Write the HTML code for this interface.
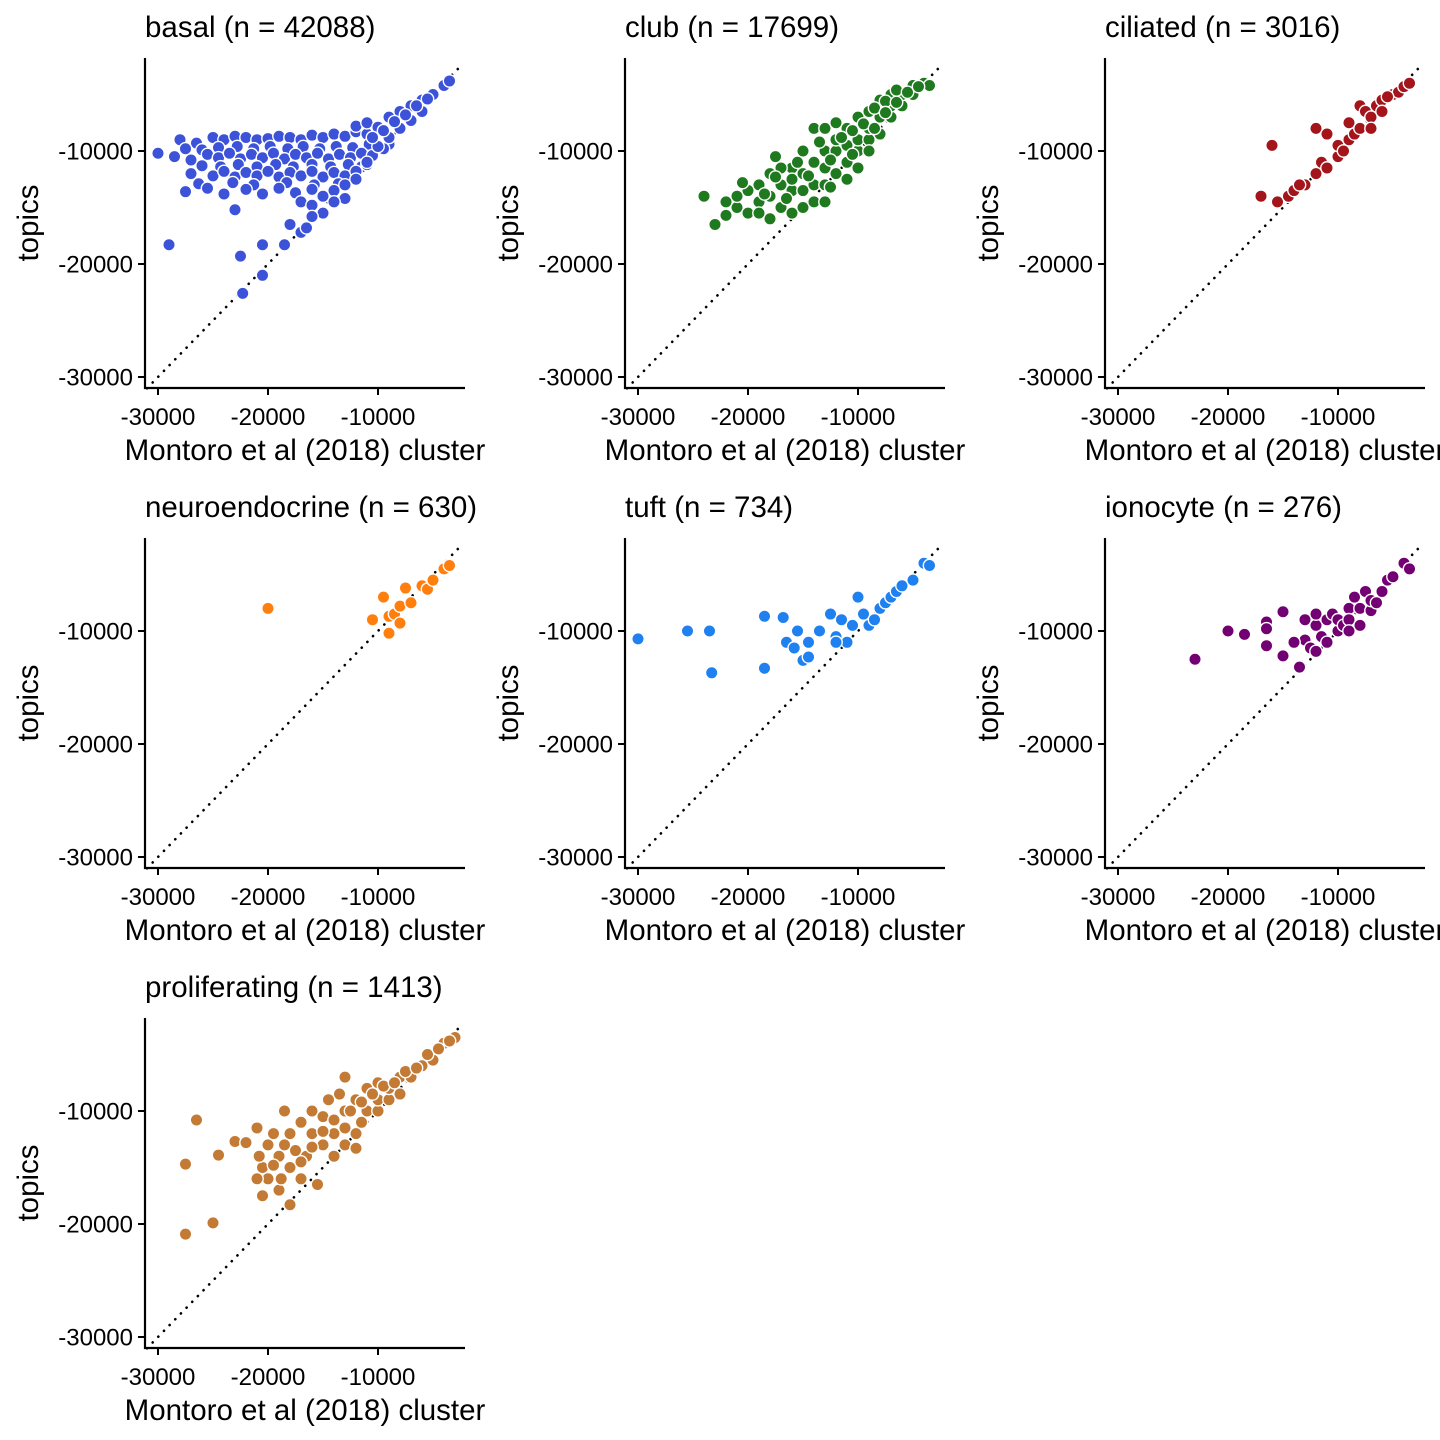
<!DOCTYPE html>
<html><head><meta charset="utf-8">
<style>
html,body{margin:0;padding:0;background:#fff;overflow:hidden;width:1440px;height:1440px}
svg{display:block;font-family:"Liberation Sans",Arial,sans-serif}
</style></head>
<body>
<svg id="chart" width="1440" height="1440" viewBox="0 0 1440 1440"></svg>
<script>
const panelNames = ["basal (n = 42088)","club (n = 17699)","ciliated (n = 3016)","neuroendocrine (n = 630)","tuft (n = 734)","ionocyte (n = 276)","proliferating (n = 1413)"];
const panelKeys = ["basal","club","ciliated","neuroendocrine","tuft","ionocyte","proliferating"];
const panelColors = ["#3b52d9","#1f7a1f","#a3141b","#ff7f0e","#1f80f0","#730073","#c27a35"];
const xTicks = [-30000,-20000,-10000];
const yTicks = [-10000,-20000,-30000];
const xTickLabels = ["-30000","-20000","-10000"];
const yTickLabels = ["-10000","-20000","-30000"];
// data in thousands [x, y]
const basalData = [[-30,-10.2],[-29,-18.3],[-22.5,-19.3],[-22.3,-22.6],[-20.5,-21],[-20.5,-18.3],[-18.5,-18.3],[-23,-15.2],
[-28,-9],[-26.5,-9.3],[-25,-8.8],[-24,-9],[-23,-8.7],[-22,-8.8],[-21,-9],[-20,-8.9],[-19,-8.7],[-18,-8.8],[-17,-9],[-16,-8.6],[-15,-8.8],[-14,-8.5],[-13,-8.7],[-12,-8.3],[-11,-8.5],[-10,-8.2],
[-27.5,-9.8],[-26,-9.9],[-24.5,-9.7],[-22.8,-9.6],[-21.3,-9.8],[-19.8,-9.6],[-18.2,-9.8],[-16.8,-9.6],[-15.3,-9.8],[-13.8,-9.6],[-12.3,-9.7],[-10.8,-9.4],[-9,-9.4],
[-28.5,-10.5],[-27,-10.8],[-25.5,-10.3],[-24.5,-10.6],[-23.5,-10.2],[-22.5,-10.7],[-21.5,-10.3],[-20.5,-10.6],[-19.5,-10.2],[-18.5,-10.7],[-17.5,-10.3],[-16.5,-10.6],[-15.5,-10.2],[-14.5,-10.7],[-13.5,-10.3],[-12.5,-10.6],[-11.5,-10.2],[-10.5,-10.4],[-9.5,-9.8],
[-26,-11.3],[-24.3,-11.4],[-22.7,-11.2],[-21,-11.4],[-19.3,-11.2],[-17.7,-11.4],[-16,-11.2],[-14.3,-11.4],[-12.7,-11.2],[-11.5,-11.4],
[-27,-12],[-25,-12.2],[-24,-11.8],[-23,-12.3],[-22,-11.9],[-21,-12.2],[-20,-11.8],[-19,-12.3],[-18,-11.9],[-17,-12.2],[-16,-11.8],[-15,-12.3],[-14,-11.9],[-13,-12.2],[-12,-11.8],[-11,-11.2],
[-26.3,-12.9],[-23.2,-12.8],[-21.3,-13],[-18.3,-12.8],[-15.8,-13],[-13.6,-12.9],
[-27.5,-13.6],[-25.5,-13.3],[-24,-13.8],[-22,-13.4],[-20.5,-13.8],[-19,-13.3],[-17.5,-13.7],[-16,-13.4],[-15,-14],[-14,-13.5],[-13,-14.2],[-17,-14.5],[-16,-14.8],
[-12,-7.8],[-11,-7.5],[-10,-7.9],[-9,-7],[-8,-6.5],[-7,-6],[-6,-5.5],[-5,-5],[-4,-4.2],[-3.5,-3.8],[-9,-8.8],[-8,-8],[-7,-7.3],[-6,-6.5],[-10,-9.6],[-11,-11],[-12,-12.5],[-13,-13],[-14,-14.5],
[-9.5,-8.2],[-8.5,-7.4],[-7.5,-6.8],[-6.5,-6],[-5.5,-5.4],[-10.5,-8.8],
[-15,-15.5],[-16,-15.8],[-17,-17.2],[-18,-16.5],[-16.5,-16.8]];
const clubData = [[-24,-14],[-23,-16.5],[-22,-15.7],[-21,-15],[-21,-14],[-20,-13.5],[-19,-14.5],[-19,-13],[-18,-16],[-18,-12],[-17.5,-10.5],[-17,-15],[-17,-13],[-16,-15.5],[-16,-13.5],[-16,-11.5],[-15,-15],[-15,-12],[-15,-10],[-14,-14.5],[-14,-13],[-14,-11],[-14,-8],[-13,-13],[-13,-11.5],[-13,-10],[-13,-8],[-12,-12],[-12,-10],[-12,-9],[-12,-7.5],[-11,-11],[-11,-9.5],[-11,-8],[-10,-10],[-10,-9],[-10,-7],[-9,-9],[-9,-8],[-9,-6.5],[-8,-8.5],[-8,-7],[-8,-5.5],[-7,-7],[-7,-6],[-7,-5],[-6,-6],[-6,-5],[-5,-5],[-5,-4.2],[-4,-4],[-3.5,-4.2],[-20,-15.5],[-22,-14.5],[-18,-14],[-16,-12.5],[-20.5,-12.8],[-15,-13.5],[-13,-14.5],[-11,-12.5],[-10,-11.5],[-9,-10],[-17,-11.5],[-19,-15.5],
[-18.5,-13.8],[-17.5,-12.3],[-16.5,-14.2],[-15.5,-11],[-14.5,-12.2],[-13.5,-9.2],[-12.5,-10.8],[-11.5,-8.8],[-10.5,-8.2],[-9.5,-7.6],[-8.5,-6.2],[-7.5,-5.6],[-6.5,-4.6],[-12.5,-13.2],[-10.5,-10.3],[-8.5,-8],[-7.5,-6.6],[-6.5,-5.7],[-5.5,-4.8],[-4.5,-4.3]];
const ciliatedData = [[-17,-14],[-16,-9.5],[-15.5,-14.5],[-14.5,-14],[-14,-13.5],[-13,-13],[-12,-12],[-12,-8],[-11.5,-11],[-11,-8.5],[-10,-10.5],[-10,-9.5],[-9,-9],[-9,-7.5],[-8.5,-8.5],[-8,-6],[-8,-8],[-7.5,-6.5],[-7,-7],[-6.5,-6],[-6,-5.5],[-5,-5],[-4.5,-4.8],[-4,-4.3],[-3.5,-4],[-7,-8],[-11,-11.5],[-13.5,-13],[-6,-6.5],[-5.5,-5.2],[-9.5,-10]];
const neuroData = [[-20,-8],[-10.5,-9],[-9.5,-7],[-9,-10.2],[-9,-8.7],[-8.5,-8.5],[-8,-9.3],[-8,-7.8],[-7.5,-6.2],[-7,-7.5],[-6,-6],[-5.5,-6.3],[-5,-5.5],[-4,-4.5],[-3.5,-4.2]];
const tuftData = [[-30,-10.7],[-25.5,-10],[-23.5,-10],[-23.3,-13.7],[-18.5,-8.7],[-18.5,-13.3],[-16.8,-8.8],[-16.5,-11],[-15.8,-11.5],[-15.5,-10],[-15,-12.6],[-14.5,-11],[-14.5,-12.3],[-13.5,-10],[-12.5,-8.5],[-12,-10.5],[-11.5,-9],[-11,-11],[-10.5,-9.5],[-10,-7],[-9.5,-8.5],[-9,-9.5],[-8.5,-9],[-8,-8],[-7.5,-7.5],[-7,-7],[-6.5,-6.5],[-6,-6],[-5,-5.5],[-4,-4],[-3.5,-4.2],[-12,-11]];
const ionoData = [[-23,-12.5],[-20,-10],[-18.5,-10.3],[-16.5,-9.2],[-16.5,-9.8],[-16.5,-11.3],[-15,-8.3],[-15,-12.2],[-13.5,-13.2],[-13,-9],[-13,-10.8],[-12.5,-11.5],[-12,-9.5],[-12,-8.5],[-11.5,-10.5],[-11,-11],[-11,-9],[-10.5,-8.5],[-10,-10],[-10,-9],[-9.5,-9.5],[-9,-8],[-9,-9],[-8.5,-7],[-8,-9.5],[-8,-8],[-7.5,-6.5],[-7,-8.2],[-7,-7.3],[-6.5,-7.5],[-6,-6.5],[-5.5,-5.5],[-5,-5.2],[-4,-4],[-3.5,-4.5],[-14,-11],[-12,-11.8],[-9,-10]];
const prolifData = [[-27.5,-14.7],[-27.5,-20.9],[-26.5,-10.8],[-25,-19.9],[-24.5,-13.9],[-23,-12.7],[-22,-12.8],[-21,-11.5],[-20.5,-15],[-20.5,-17.5],[-20,-13],[-20,-16],[-19.5,-12],[-19,-14],[-19,-17],[-18.5,-10],[-18,-12],[-18,-15],[-17.5,-13.5],[-17,-11],[-17,-16],[-16.5,-14],[-16,-12],[-16,-10],[-15.5,-16.5],[-15,-13],[-15,-10.5],[-14.5,-9],[-14,-12],[-14,-14],[-13.5,-8.5],[-13,-7],[-13,-10],[-13,-13],[-12,-12],[-12,-9],[-11.5,-11],[-11,-8],[-11,-10],[-10,-10],[-10,-9],[-10,-7.5],[-9,-9],[-9,-8],[-8,-8.5],[-8,-7],[-7,-7],[-6,-6],[-5,-5.5],[-4,-4],[-3,-3.5],[-12,-13.3],[-18,-18.3],[-21,-16],
[-19.5,-14.8],[-18.5,-13],[-17,-14.5],[-16,-13.2],[-15,-11.8],[-14,-10.8],[-13,-11.5],[-12.5,-10],[-11.5,-9.2],[-10.5,-8.5],[-9.5,-7.8],[-8.5,-7.5],[-7.5,-6.5],[-6.5,-6.2],[-5.5,-5],[-4.5,-4.5],[-3.5,-3.8],[-20.8,-14],[-18.8,-16]];
const allData = [basalData,clubData,ciliatedData,neuroData,tuftData,ionoData,prolifData];

const NS="http://www.w3.org/2000/svg";
const svg=document.getElementById('chart');
function mk(tag,attrs,parent){const e=document.createElementNS(NS,tag);for(const k in attrs)e.setAttribute(k,attrs[k]);(parent||svg).appendChild(e);return e;}
const X0=145,X1=465,Y0=58,Y1=388;
function xs(v,ox){return ox+158+(v+30000)*0.011;}
function ys(v,oy){return oy+377-(v+30000)*0.0113;}

allData.forEach((data,i)=>{
  const ox=(i%3)*480, oy=Math.floor(i/3)*480;
  const g=mk('g',{});
  
  
  const t=mk('text',{x:ox+145,y:oy+37,'font-size':29.5,fill:'#000'},g);
  t.textContent=panelNames[i];
  
  
  const d=mk('line',{x1:xs(-31000,ox),y1:ys(-31000,oy),x2:xs(-2300,ox),y2:ys(-2300,oy),stroke:'#000','stroke-width':2.6,'stroke-dasharray':'0.1,8','stroke-linecap':'round'},g);
  
  
  data.forEach(p=>{
    const c=mk('circle',{cx:xs(p[0]*1000,ox),cy:ys(p[1]*1000,oy),r:6.2,fill:panelColors[i],stroke:'#fff','stroke-width':1.4},g);
    
    
  });
  const ax=mk('path',{d:`M${ox+X0},${oy+Y0} V${oy+Y1} H${ox+X1}`,stroke:'#000','stroke-width':2.2,fill:'none'},g);
  
  
  xTicks.forEach((v,k)=>{
    const x=xs(v,ox);
    mk('line',{x1:x,y1:oy+Y1,x2:x,y2:oy+Y1+7,stroke:'#000','stroke-width':2},g);
    const tl=mk('text',{x:x,y:oy+Y1+37,'text-anchor':'middle','font-size':24,fill:'#000'},g);
    tl.textContent=xTickLabels[k];
    
    
  });
  yTicks.forEach((v,k)=>{
    const y=ys(v,oy);
    mk('line',{x1:ox+X0-7,y1:y,x2:ox+X0,y2:y,stroke:'#000','stroke-width':2},g);
    const tl=mk('text',{x:ox+X0-12,y:y+8.5,'text-anchor':'end','font-size':24,fill:'#000'},g);
    tl.textContent=yTickLabels[k];
    
    
  });
  const xt=mk('text',{x:ox+305,y:oy+460,'text-anchor':'middle','font-size':29.5,fill:'#000'},g);
  xt.textContent='Montoro et al (2018) cluster';
  
  
  const yt=mk('text',{x:0,y:0,'text-anchor':'middle','font-size':29.5,fill:'#000',transform:`translate(${ox+38},${oy+223}) rotate(-90)`},g);
  yt.textContent='topics';
  
  
});
</script>
</body></html>
